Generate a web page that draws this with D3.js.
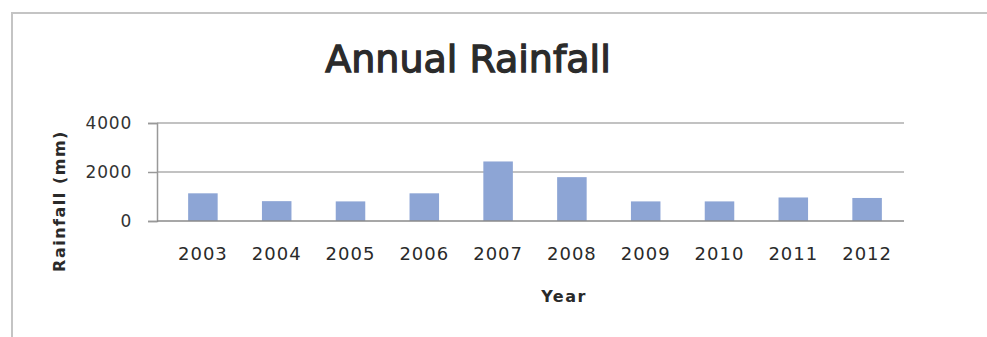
<!DOCTYPE html>
<html>
<head>
<meta charset="utf-8">
<script src="https://cdn.jsdelivr.net/npm/d3@7"></script>
<style>
  html, body { margin: 0; padding: 0; background: #fff; }
  svg { display: block; }
</style>
</head>
<body>
<svg id="chart" width="987" height="337"></svg>
<script>
// Annual rainfall by year (mm)
const years = ["2003", "2004", "2005", "2006", "2007", "2008", "2009", "2010", "2011", "2012"];
const rainfall = [1130, 810, 800, 1130, 2430, 1790, 800, 800, 960, 940];
const yTicks = [0, 2000, 4000];

const svg = d3.select("#chart");
const W = 987, H = 337;

// Outer chart frame (runs off the right and bottom edges)
svg.append("rect")
  .attr("x", 12).attr("y", 13)
  .attr("width", W + 10).attr("height", H + 10)
  .attr("fill", "#fff")
  .attr("stroke", "#c4c4c4")
  .attr("stroke-width", 2);

// Plot geometry
const axisX = 157, plotRight = 904;
const y = d3.scaleLinear().domain([0, 4000]).range([221, 123]);
const x = d3.scaleBand().domain(years).range([166, plotRight])
  .paddingInner(0.6).paddingOuter(0.3);

// Gridlines
svg.append("g")
  .selectAll("line")
  .data(yTicks.filter(d => d > 0))
  .join("line")
  .attr("x1", axisX).attr("x2", plotRight)
  .attr("y1", d => y(d)).attr("y2", d => y(d))
  .attr("stroke", "#c2c2c2")
  .attr("stroke-width", 2);

// Bars
svg.append("g")
  .selectAll("rect")
  .data(years.map((yr, i) => ({ yr, v: rainfall[i] })))
  .join("rect")
  .attr("x", d => x(d.yr))
  .attr("y", d => y(d.v))
  .attr("width", x.bandwidth())
  .attr("height", d => y(0) - y(d.v))
  .attr("fill", "#8da5d5");

// Y axis
const yAxis = d3.axisLeft(y).tickValues(yTicks).tickFormat(d3.format("d"))
  .tickSize(9).tickPadding(16);
const gy = svg.append("g").attr("transform", `translate(${axisX},0)`).call(yAxis);
gy.select(".domain").attr("stroke", "#999").attr("stroke-width", 1.5);
gy.selectAll(".tick line").attr("stroke", "#999").attr("stroke-width", 1.5);
gy.selectAll(".tick text")
  .attr("font-family", "DejaVu Sans")
  .attr("font-size", 17)
  .attr("letter-spacing", 0.8)
  .attr("fill", "#333");

// X axis baseline
svg.append("line")
  .attr("x1", axisX).attr("x2", plotRight)
  .attr("y1", y(0)).attr("y2", y(0))
  .attr("stroke", "#8a8a8a")
  .attr("stroke-width", 1.5);

// X axis labels
const xAxis = d3.axisBottom(x).tickSize(0).tickPadding(26);
const gx = svg.append("g").attr("transform", `translate(0,${y(0)})`).call(xAxis);
gx.select(".domain").remove();
gx.selectAll(".tick text")
  .attr("font-family", "DejaVu Sans")
  .attr("font-size", 18)
  .attr("letter-spacing", 1)
  .attr("fill", "#2a2a2a");

// Title
svg.append("text")
  .attr("x", 468).attr("y", 72)
  .attr("text-anchor", "middle")
  .attr("font-family", "DejaVu Sans")
  .attr("font-size", 38)
  .attr("fill", "#2b2b2b")
  .attr("stroke", "#2b2b2b")
  .attr("stroke-width", 1.3)
  .text("Annual Rainfall");

// Axis titles
svg.append("text")
  .attr("transform", "translate(65,201) rotate(-90)")
  .attr("text-anchor", "middle")
  .attr("font-family", "DejaVu Sans")
  .attr("font-weight", "bold")
  .attr("font-size", 16)
  .attr("letter-spacing", 1.5)
  .attr("fill", "#2a2a2a")
  .text("Rainfall (mm)");

svg.append("text")
  .attr("x", 564).attr("y", 302)
  .attr("text-anchor", "middle")
  .attr("font-family", "DejaVu Sans")
  .attr("font-weight", "bold")
  .attr("font-size", 16)
  .attr("letter-spacing", 1.5)
  .attr("fill", "#2a2a2a")
  .text("Year");
</script>
</body>
</html>
